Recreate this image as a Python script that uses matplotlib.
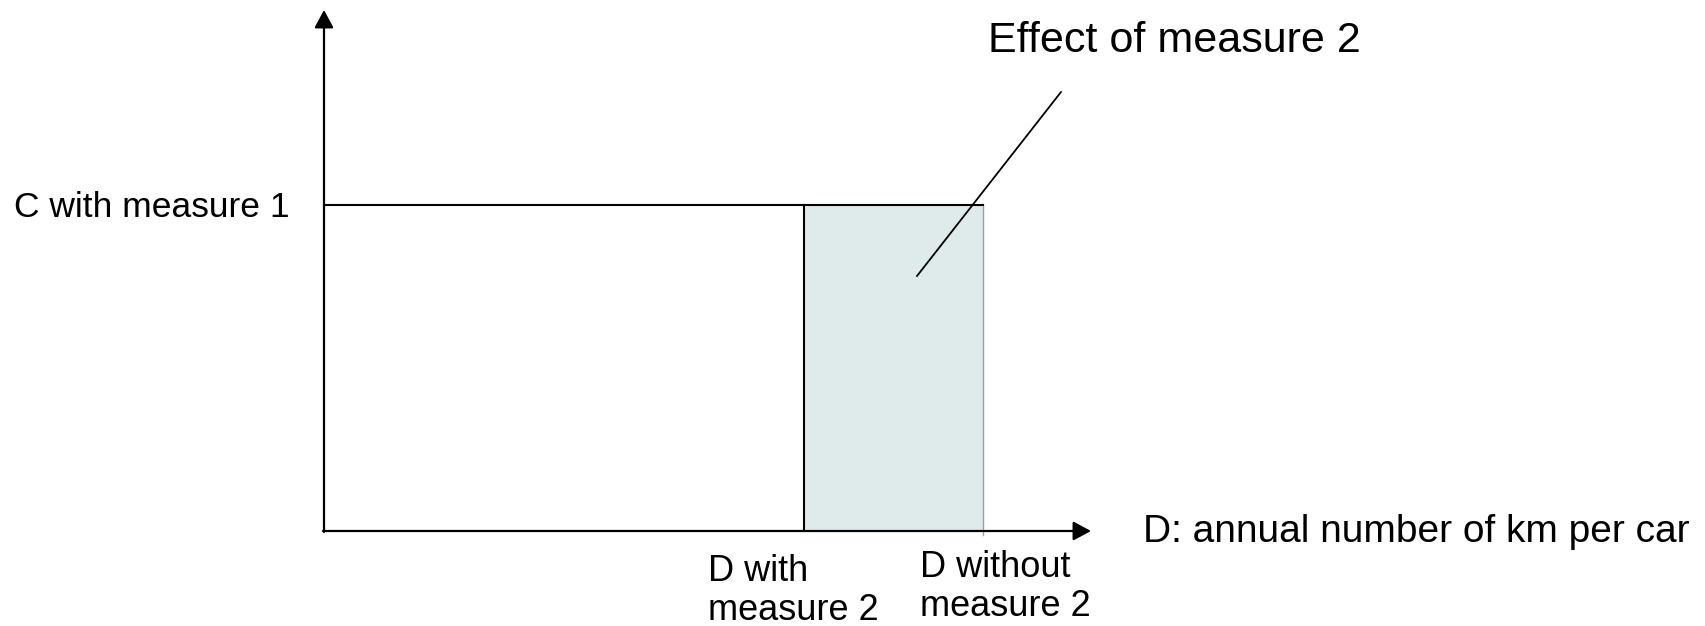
import matplotlib.pyplot as plt
from matplotlib.patches import Rectangle

plt.rcParams['font.family'] = ['Liberation Sans', 'DejaVu Sans']

# diagram values (pixel-like units measured from the axis origin)
c_measure1 = 326
d_with = 480
d_without = 659
x_axis_end = 767
y_axis_end = 521
pointer_start = (593, 255)
pointer_end = (737, 439)

x_label = "D: annual number of km per car"
y_label = "C with measure 1"
tick_labels = [["D with", "measure 2"], ["D without", "measure 2"]]
callout = "Effect of measure 2"

fig = plt.figure(figsize=(17.06, 6.26), dpi=100)
ax = fig.add_axes([0, 0, 1, 1])
ax.set_xlim(-324, 1706 - 324)
ax.set_ylim(-95, 531)
ax.axis("off")

# shaded area = effect of measure 2
ax.add_patch(Rectangle((d_with, 0), d_without - d_with, c_measure1,
                       facecolor="#dfeaea", edgecolor="none", zorder=1))
ax.plot([d_without, d_without], [-4, c_measure1], color="#a0a0a0", lw=1, zorder=2)

# axes with arrow heads
arrow = dict(arrowstyle="-|>,head_length=0.54,head_width=0.29", color="black",
             lw=1.6, mutation_scale=20, shrinkA=0, shrinkB=0)
ax.annotate("", xy=(x_axis_end, 0), xytext=(-1, 0), arrowprops=arrow)
ax.annotate("", xy=(0, y_axis_end), xytext=(0, -1), arrowprops=arrow)

# cost line and measure 2 line
ax.plot([0, d_without], [c_measure1, c_measure1], color="black", lw=1.5, zorder=3)
ax.plot([d_with, d_with], [0, c_measure1], color="black", lw=1.5, zorder=3)

# pointer to shaded area
ax.plot([pointer_start[0], pointer_end[0]], [pointer_start[1], pointer_end[1]],
        color="black", lw=1.3, zorder=3)

# text
ax.text(-34, c_measure1 - 12, y_label, ha="right", va="baseline", fontsize=25.5)
ax.text(819, -11, x_label, ha="left", va="baseline", fontsize=28)
for (line1, line2), x0, y0 in zip(tick_labels, [384, 596], [-50, -46]):
    ax.text(x0, y0, line1, ha="left", va="baseline", fontsize=26)
    ax.text(x0, y0 - 39, line2, ha="left", va="baseline", fontsize=26)
ax.text(664, 479, callout, ha="left", va="baseline", fontsize=31)

fig.savefig("out.png", dpi=100)
